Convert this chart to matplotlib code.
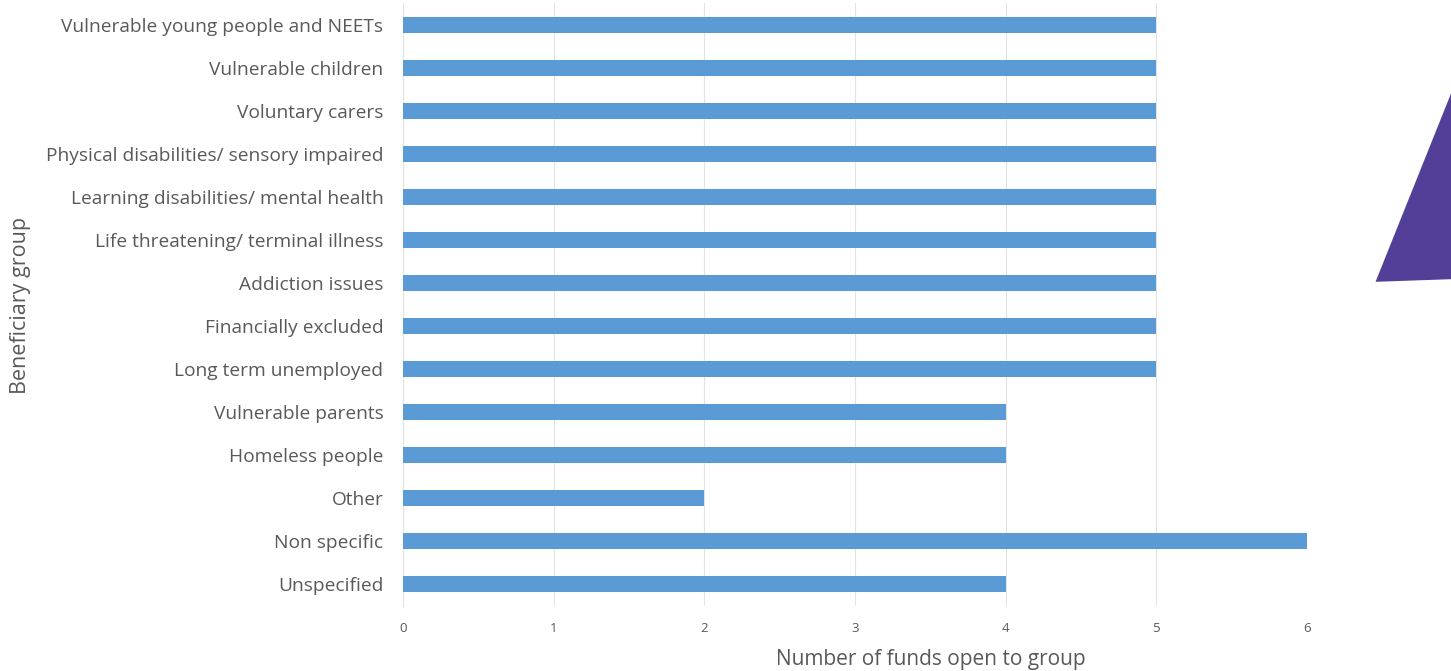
import matplotlib.pyplot as plt
from matplotlib.patches import Polygon

# ==================== Chart data ====================
groups = [
    "Vulnerable young people and NEETs",
    "Vulnerable children",
    "Voluntary carers",
    "Physical disabilities/ sensory impaired",
    "Learning disabilities/ mental health",
    "Life threatening/ terminal illness",
    "Addiction issues",
    "Financially excluded",
    "Long term unemployed",
    "Vulnerable parents",
    "Homeless people",
    "Other",
    "Non specific",
    "Unspecified",
]
funds = [5, 5, 5, 5, 5, 5, 5, 5, 5, 4, 4, 2, 6, 4]
x_ticks = [0, 1, 2, 3, 4, 5, 6]

BAR_COLOR = "#5B9BD5"
GRID_COLOR = "#E3E3E3"
TEXT_COLOR = "#595959"
# ====================================================

plt.rcParams['font.family'] = ['Open Sans', 'DejaVu Sans']

fig = plt.figure(figsize=(14.51, 6.71), dpi=100)
ax = fig.add_axes([0.2777, 0.0976, 0.6231, 0.8972])

ypos = list(range(len(groups)))
ax.barh(ypos, funds, height=0.37, color=BAR_COLOR, zorder=3)

ax.set_ylim(len(groups) - 0.5, -0.5)
ax.set_xlim(0, 6)
ax.set_yticks(ypos)
ax.set_yticklabels(groups, fontsize=13.8, color=TEXT_COLOR)
ax.set_xticks(x_ticks)
ax.set_xticklabels([str(t) for t in x_ticks], fontsize=9.5, color=TEXT_COLOR)

ax.tick_params(axis='y', length=0, pad=14)
ax.tick_params(axis='x', length=0, pad=12)
ax.grid(axis='x', color=GRID_COLOR, linewidth=0.8, zorder=0)

for side in ['top', 'right', 'bottom']:
    ax.spines[side].set_visible(False)
ax.spines['left'].set_color(GRID_COLOR)
ax.spines['left'].set_linewidth(0.8)

ax.set_xlabel("Number of funds open to group", fontsize=15, color=TEXT_COLOR)
ax.xaxis.set_label_coords(0.584, -0.072)
fig.text(0.014, 0.545, "Beneficiary group", rotation=90, fontsize=15.5,
         color=TEXT_COLOR, ha='center', va='center')

# decorative purple triangle at the right edge
tri = Polygon([(1.001, 0.866), (0.948, 0.580), (1.001, 0.584)], closed=True,
              transform=fig.transFigure, facecolor="#533F97", edgecolor='none',
              clip_on=False)
fig.patches.append(tri)

fig.savefig("out.png", dpi=100)
